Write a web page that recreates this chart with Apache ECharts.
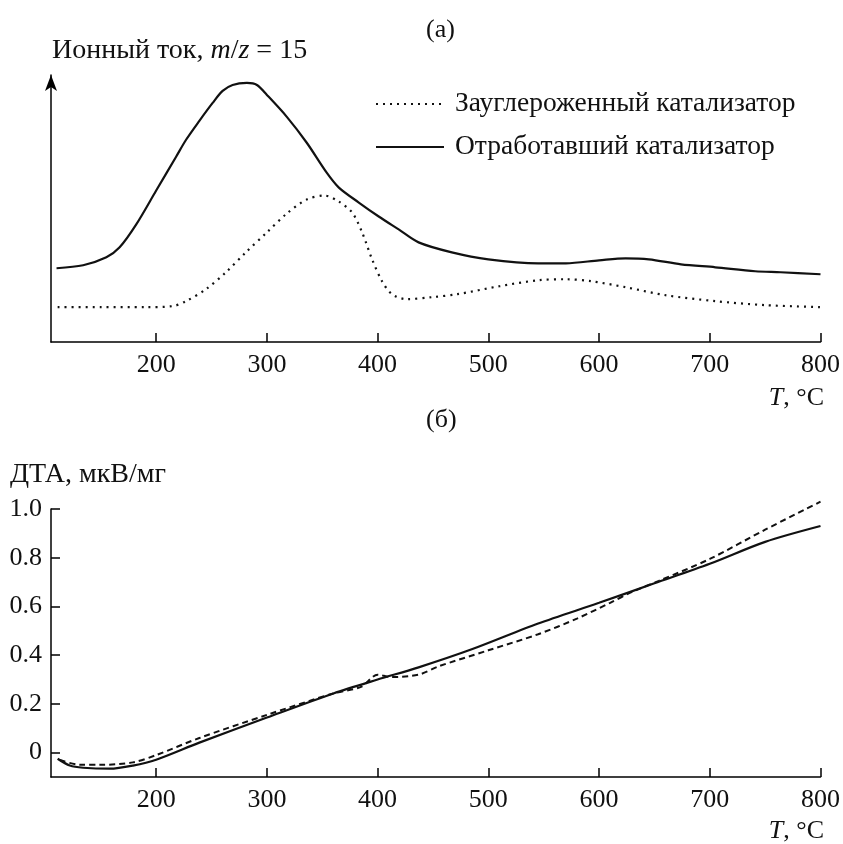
<!DOCTYPE html>
<html>
<head>
<meta charset="utf-8">
<script src="https://cdn.jsdelivr.net/npm/echarts@6/dist/echarts.min.js"></script>
<style>
  html, body { margin: 0; padding: 0; background: #fff; }
  #chart { width: 843px; height: 844px; }
</style>
</head>
<body>
<div id="chart"></div>
<script>
/**
 * 数据 (a) 离子流 m/z = 15, 单位任意
 */
var tSolidA = [110, 134, 155, 167, 182, 200, 218, 227, 239, 251, 260, 269, 282, 291, 300, 318, 336, 354, 365, 383, 401, 419, 437, 467, 500, 545, 570, 600, 624, 645, 674, 705, 741, 764, 800];
var ionSolid = [74, 77, 85, 95, 118, 152, 186, 203, 222, 240, 252, 258, 260, 258, 248, 226, 200, 170, 155, 140, 126, 113, 100, 90, 83, 79, 79, 82, 84, 83, 78, 75, 71, 70, 68];

var tDotA = [111, 150, 190, 215, 227, 245, 263, 281, 300, 318, 336, 352, 365, 377, 386, 395, 404, 413, 426, 449, 472, 510, 545, 570, 593, 624, 660, 705, 750, 800];
var ionDot = [35, 35, 35, 36, 41, 53, 70, 90, 110, 129, 143, 147, 141, 130, 110, 83, 61, 48, 43, 45, 48, 56, 62, 63, 61, 55, 47, 41, 37, 35];

/**
 * 数据 (б) ДТА, мкВ/мг
 */
var tSolidB = [111, 122, 134, 158, 179, 200, 239, 300, 360, 400, 437, 485, 545, 600, 650, 700, 750, 800];
var dtaSolid = [-0.025, -0.053, -0.062, -0.066, -0.053, -0.029, 0.041, 0.144, 0.243, 0.300, 0.350, 0.424, 0.530, 0.615, 0.695, 0.775, 0.865, 0.930];

var tDashB = [113, 131, 150, 179, 200, 239, 300, 360, 385, 400, 412, 437, 455, 500, 545, 580, 610, 630, 654, 700, 750, 800];
var dtaDash = [-0.03, -0.05, -0.05, -0.04, -0.01, 0.06, 0.155, 0.243, 0.27, 0.32, 0.31, 0.32, 0.354, 0.42, 0.486, 0.55, 0.615, 0.66, 0.705, 0.795, 0.915, 1.03];

var xTicks = [200, 300, 400, 500, 600, 700, 800];
var yTicksB = [0, 0.2, 0.4, 0.6, 0.8, 1.0];

var legendNames = ['Зауглероженный катализатор', 'Отработавший катализатор'];

var FONT = '"Liberation Serif", "DejaVu Serif", serif';

function pairs(xs, ys) {
	var arr = [];
	for (var i = 0; i < xs.length; i++) arr.push([xs[i], ys[i]]);
	return arr;
}

function xAxisOpt(gridIndex) {
	return {
		type: 'value', gridIndex: gridIndex, min: 105, max: 800,
		axisLine: { onZero: false, lineStyle: { color: '#000', width: 1.5 } },
		axisTick: { inside: true, length: 9, customValues: xTicks, lineStyle: { color: '#000', width: 1.5 } },
		axisLabel: { customValues: xTicks, color: '#111', fontSize: 26, fontFamily: FONT, margin: 10 },
		splitLine: { show: false }
	};
}

function textStyle(size) {
	return {
		fontSize: size, fontWeight: 'normal', fontFamily: FONT, color: '#111',
		rich: { i: { fontStyle: 'italic', fontSize: size, fontFamily: FONT, color: '#111' } }
	};
}

var chart = echarts.init(document.getElementById('chart'));

var option = {
	backgroundColor: '#fff',
	animation: false,
	textStyle: { fontFamily: FONT, color: '#111' },
	title: [
		{ text: '(а)', left: 421, top: 12, textStyle: textStyle(26) },
		{ text: '(б)', left: 421, top: 402, textStyle: textStyle(26) },
		{ text: 'Ионный ток, {i|m}/{i|z} = 15', left: 47, top: 32, textStyle: textStyle(28) },
		{ text: 'ДТА, мкВ/мг', left: 5, top: 456, textStyle: textStyle(28) },
		{ text: '{i|T}, °C', right: 14, top: 380, textStyle: textStyle(26) },
		{ text: '{i|T}, °C', right: 14, top: 813, textStyle: textStyle(26) }
	],
	legend: {
		data: legendNames,
		orient: 'vertical',
		left: 370, top: 85,
		itemWidth: 68, itemHeight: 14, itemGap: 15,
		itemStyle: { opacity: 0 },
		textStyle: { fontSize: 27.5, fontFamily: FONT, color: '#111', padding: [0, 0, 0, 6] }
	},
	grid: [
		{ left: 51, right: 21, top: 75, bottom: 502 },
		{ left: 51, right: 21, top: 509, bottom: 67 }
	],
	xAxis: [xAxisOpt(0), xAxisOpt(1)],
	yAxis: [
		{
			type: 'value', gridIndex: 0, min: 0, max: 268,
			axisLine: { show: true, onZero: false, symbol: ['none', 'arrow'], symbolSize: [9, 16], lineStyle: { color: '#000', width: 1.5 } },
			axisTick: { show: false }, axisLabel: { show: false }, splitLine: { show: false }
		},
		{
			type: 'value', gridIndex: 1, min: -0.1, max: 1.0,
			axisLine: { show: true, onZero: false, lineStyle: { color: '#000', width: 1.5 } },
			axisTick: { inside: true, length: 9, customValues: yTicksB, lineStyle: { color: '#000', width: 1.5 } },
			axisLabel: {
				customValues: yTicksB, fontSize: 26, fontFamily: FONT, color: '#111', margin: 9,
				formatter: function (v) { return v === 0 ? '0' : v.toFixed(1); }
			},
			splitLine: { show: false }
		}
	],
	series: [
		{
			name: legendNames[0], type: 'line', xAxisIndex: 0, yAxisIndex: 0,
			data: pairs(tDotA, ionDot), smooth: 0.3, symbol: 'none',
			lineStyle: { color: '#111', width: 2.2, type: [2, 5] }, itemStyle: { color: '#111' }
		},
		{
			name: legendNames[1], type: 'line', xAxisIndex: 0, yAxisIndex: 0,
			data: pairs(tSolidA, ionSolid), smooth: 0.3, symbol: 'none',
			lineStyle: { color: '#111', width: 2.2 }, itemStyle: { color: '#111' }
		},
		{
			name: 'dta-dash', type: 'line', xAxisIndex: 1, yAxisIndex: 1,
			data: pairs(tDashB, dtaDash), smooth: 0.3, symbol: 'none', clip: false,
			lineStyle: { color: '#111', width: 2, type: [6, 4] }
		},
		{
			name: 'dta-solid', type: 'line', xAxisIndex: 1, yAxisIndex: 1,
			data: pairs(tSolidB, dtaSolid), smooth: 0.3, symbol: 'none', clip: false,
			lineStyle: { color: '#111', width: 2.2 }
		}
	]
};

chart.setOption(option);
</script>
</body>
</html>
